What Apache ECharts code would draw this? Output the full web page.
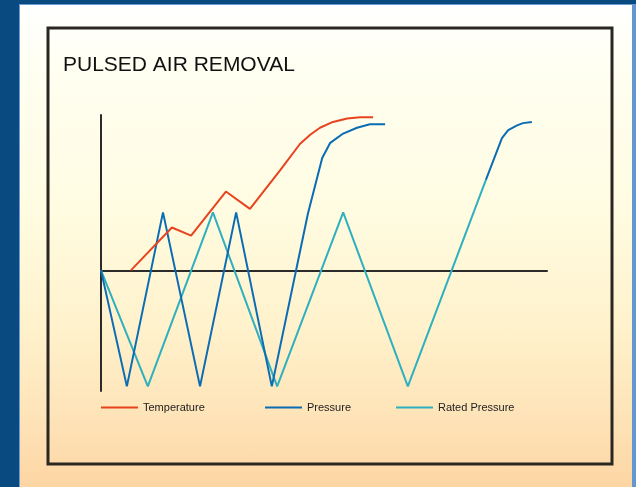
<!DOCTYPE html>
<html>
<head>
<meta charset="utf-8">
<script src="https://cdn.jsdelivr.net/npm/echarts@6/dist/echarts.min.js"></script>
<style>
  html, body { margin: 0; padding: 0; width: 636px; height: 487px; background: #094a80; overflow: hidden; }
  #frame {
    position: absolute; left: 19px; top: 4px; width: 612px; height: 483px;
    border-left: 1px solid #6b9bd2; border-top: 1px solid #6b9bd2; border-right: 4px solid #6496cf;
    background: linear-gradient(to bottom, #ffffff 0px, #fffff2 60px, #fffce2 200px, #fff2cc 320px, #fee2b6 420px, #fdd5a3 483px);
  }
  #chart { position: absolute; left: 0; top: 0; width: 636px; height: 487px; }
</style>
</head>
<body>
<div id="frame"></div>
<div id="chart"></div>
<script>
// time axis 0..100, pressure / temperature in relative units (0 = atmospheric)
const temperature = [
  [6.7, 0], [15.9, 0.37], [20.2, 0.3], [28.0, 0.68], [33.4, 0.53], [40.1, 0.86],
  [44.6, 1.09], [46.9, 1.17], [49.1, 1.23], [52.0, 1.28], [55.2, 1.31], [58.1, 1.32], [61.0, 1.32]
]
const pressure = [
  [0, 0], [5.8, -1], [13.9, 0.5], [22.2, -1], [30.3, 0.5], [38.3, -1], [46.4, 0.49],
  [49.6, 0.97], [51.4, 1.1], [54.3, 1.18], [57.4, 1.23], [60.3, 1.26], [63.7, 1.26],
  null,
  [86.3, 0.78], [89.9, 1.14], [91.3, 1.21], [93.3, 1.25], [94.6, 1.27], [96.6, 1.28]
]
const ratedPressure = [
  [0, 0], [10.5, -1], [25.1, 0.5], [39.5, -1], [54.3, 0.5], [68.8, -1], [86.3, 0.78]
]
const names = ['Temperature', 'Pressure', 'Rated Pressure']
const colors = ['#e8431f', '#0b6cb4', '#2eb0bf']
const legendLeft = [101, 265, 396]

const chart = echarts.init(document.getElementById('chart'))

const textStyle = {
  fontFamily: 'Liberation Sans',
  fontSize: 11,
  color: '#222'
}

chart.setOption({
  backgroundColor: 'transparent',
  animation: false,
  color: colors,
  title: {
    text: 'PULSED AIR REMOVAL',
    left: 58,
    top: 50,
    textStyle: {
      fontFamily: 'Liberation Sans',
      fontWeight: 'normal',
      fontSize: 21,
      color: '#111'
    }
  },
  graphic: [
    {
      type: 'rect',
      shape: { x: 48, y: 28, width: 564, height: 436 },
      style: { fill: 'none', stroke: '#2a2622', lineWidth: 3 },
      z: 0
    }
  ],
  legend: names.map((name, i) => ({
    data: [name],
    left: legendLeft[i],
    top: 402,
    padding: 0,
    icon: 'rect',
    itemWidth: 37,
    itemHeight: 2,
    itemGap: 0,
    textStyle: textStyle
  })),
  grid: {
    left: 101,
    top: 115,
    width: 446,
    height: 276
  },
  xAxis: {
    type: 'value',
    min: 0,
    max: 100,
    axisLine: { onZero: true, lineStyle: { color: '#2b2b2b', width: 2 } },
    axisTick: { show: false },
    axisLabel: { show: false },
    splitLine: { show: false }
  },
  yAxis: {
    type: 'value',
    min: -1.04,
    max: 1.34,
    axisLine: { show: true, onZero: false, lineStyle: { color: '#2b2b2b', width: 2 } },
    axisTick: { show: false },
    axisLabel: { show: false },
    splitLine: { show: false }
  },
  series: [
    {
      name: 'Temperature',
      type: 'line',
      data: temperature,
      symbol: 'none',
      z: 4,
      lineStyle: { width: 2, color: colors[0] }
    },
    {
      name: 'Pressure',
      type: 'line',
      data: pressure,
      symbol: 'none',
      z: 3,
      lineStyle: { width: 2, color: colors[1] }
    },
    {
      name: 'Rated Pressure',
      type: 'line',
      data: ratedPressure,
      symbol: 'none',
      z: 2,
      lineStyle: { width: 2, color: colors[2] }
    }
  ]
})
</script>
</body>
</html>
